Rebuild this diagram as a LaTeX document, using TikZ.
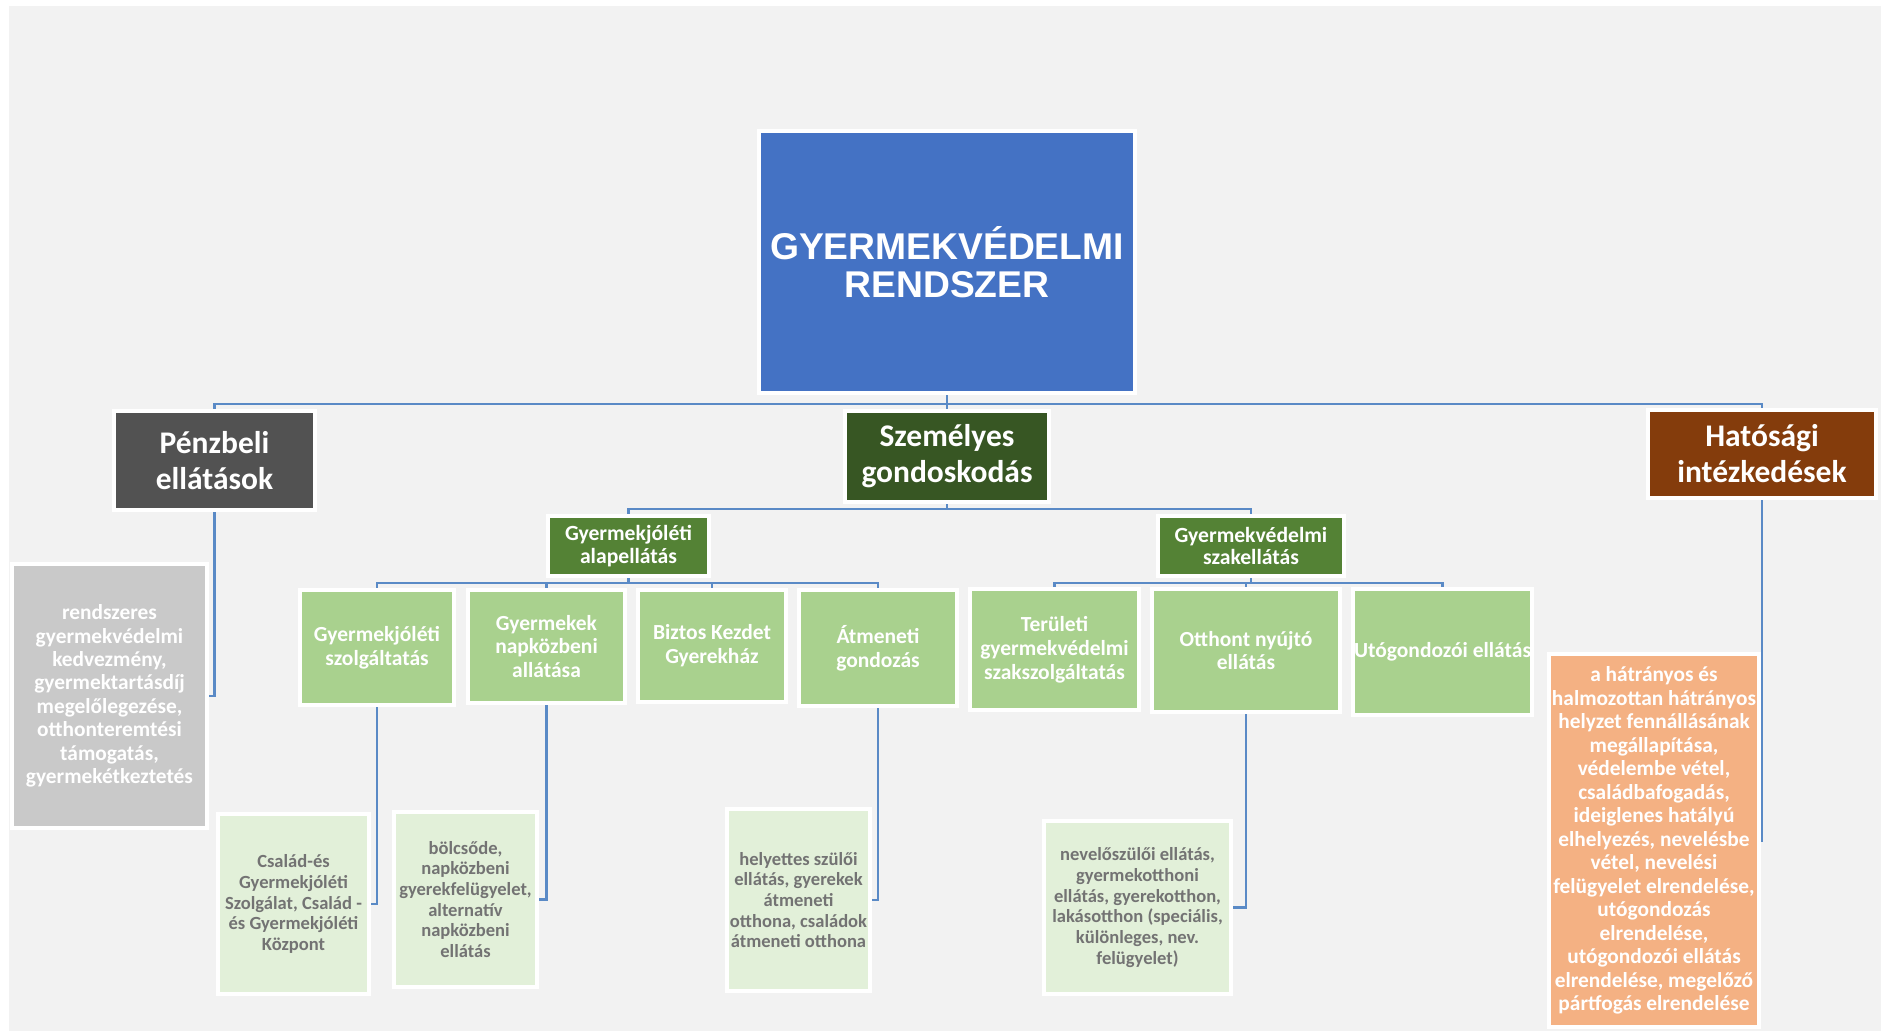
\documentclass[tikz,border=0pt]{standalone}
\usepackage{fontspec}
\setmainfont{Carlito}
\newfontfamily\headfont{Liberation Sans}
\usepackage{xcolor}
\usepackage{tikz}
\definecolor{canvas}{HTML}{F2F2F2}
\definecolor{rootblue}{HTML}{4472C4}
\definecolor{moneygrey}{HTML}{525252}
\definecolor{caregreen}{HTML}{375623}
\definecolor{authbrown}{HTML}{843C0C}
\definecolor{groupgreen}{HTML}{548235}
\definecolor{servicegreen}{HTML}{A9D18E}
\definecolor{detailgreen}{HTML}{E2F0D9}
\definecolor{detailtext}{HTML}{737373}
\definecolor{listgrey}{HTML}{C9C9C9}
\definecolor{listorange}{HTML}{F4B183}
\definecolor{busblue}{HTML}{5A8AC6}
\tikzstyle{box}=[shape=rectangle, draw=white, line width=2.2pt, inner sep=0pt, align=center, text=white]
\tikzstyle{root box}=[box, fill=rootblue, font=\headfont\bfseries\fontsize{26.5}{27}\selectfont]
\tikzstyle{branch box}=[box, font=\bfseries\fontsize{22.4}{25.6}\selectfont]
\tikzstyle{group box}=[box, fill=groupgreen, font=\bfseries\fontsize{15.4}{15.8}\selectfont]
\tikzstyle{service box}=[box, fill=servicegreen, font=\bfseries\fontsize{15.3}{17}\selectfont]
\tikzstyle{detail box}=[box, fill=detailgreen, text=detailtext, font=\bfseries\fontsize{13.2}{14.7}\selectfont]
\tikzstyle{list box}=[box, font=\bfseries\fontsize{15.2}{16.7}\selectfont]
\tikzstyle{bus}=[-, draw=busblue, line width=1.9pt]
\pgfdeclarelayer{nodelayer}
\pgfdeclarelayer{edgelayer}
\pgfsetlayers{main,edgelayer,nodelayer}

\begin{document}
\begin{tikzpicture}
	\fill [white] (0, 0) rectangle (47.025, -25.775);
	\fill [canvas] (0.225, -0.15) rectangle (47.025, -25.775);
	\useasboundingbox (0, 0) rectangle (47.025, -25.775);
	\begin{pgfonlayer}{nodelayer}
		\node [style=root box, minimum width=9.4cm, minimum height=6.55cm] (0) at (23.675, -6.55) {GYERMEKVÉDELMI\\RENDSZER};
		\node [style=branch box, fill=moneygrey, minimum width=5.025cm, minimum height=2.475cm] (1) at (5.3625, -11.5125) {Pénzbeli\\ellátások};
		\node [style=branch box, fill=caregreen, minimum width=5.1cm, minimum height=2.275cm] (2) at (23.675, -11.4125) {Személyes\\gondoskodás};
		\node [style=branch box, fill=authbrown, minimum width=5.7cm, minimum height=2.2cm] (3) at (44.05, -11.35) {Hatósági\\intézkedések};
		\node [style=group box, minimum width=4.025cm, minimum height=1.5cm] (4) at (15.7125, -13.65) {Gyermekjóléti\\alapellátás};
		\node [style=group box, minimum width=4.65cm, minimum height=1.5cm] (5) at (31.275, -13.65) {Gyermekvédelmi\\szakellátás};
		\node [style=service box, minimum width=3.85cm, minimum height=2.875cm] (6) at (9.425, -16.1875) {Gyermekjóléti\\szolgáltatás};
		\node [style=service box, minimum width=3.925cm, minimum height=2.825cm] (7) at (13.6625, -16.1625) {Gyermekek\\napközbeni\\allátása};
		\node [style=service box, minimum width=3.7cm, minimum height=2.8cm] (8) at (17.8, -16.15) {Biztos Kezdet\\Gyerekház};
		\node [style=service box, minimum width=3.95cm, minimum height=2.9cm] (9) at (21.95, -16.2) {Átmeneti\\gondozás};
		\node [style=service box, minimum width=4.225cm, minimum height=3.025cm] (10) at (26.3625, -16.2375) {Területi\\gyermekvédelmi\\szakszolgáltatás};
		\node [style=service box, minimum width=4.7cm, minimum height=3.075cm] (11) at (31.15, -16.2625) {Otthont nyújtó\\ellátás};
		\node [style=service box, minimum width=4.475cm, minimum height=3.15cm] (12) at (36.0625, -16.3) {Utógondozói ellátás};
		\node [style=detail box, minimum width=3.775cm, minimum height=4.5cm] (13) at (7.3375, -22.6) {Család-és\\Gyermekjóléti\\Szolgálat, Család -\\és Gyermekjóléti\\Központ};
		\node [style=detail box, minimum width=3.575cm, minimum height=4.375cm] (14) at (11.6375, -22.4875) {bölcsőde,\\napközbeni\\gyerekfelügyelet,\\alternatív\\napközbeni\\ellátás};
		\node [style=detail box, minimum width=3.575cm, minimum height=4.55cm] (15) at (19.9625, -22.5) {helyettes szülői\\ellátás, gyerekek\\átmeneti\\otthona, családok\\átmeneti otthona};
		\node [style=detail box, minimum width=4.675cm, minimum height=4.325cm] (16) at (28.4375, -22.6875) {nevelőszülői ellátás,\\gyermekotthoni\\ellátás, gyerekotthon,\\lakásotthon (speciális,\\különleges, nev.\\felügyelet)};
		\node [style=list box, fill=listgrey, minimum width=4.875cm, minimum height=6.6cm] (17) at (2.7375, -17.4) {rendszeres\\gyermekvédelmi\\kedvezmény,\\gyermektartásdíj\\megelőlegezése,\\otthonteremtési\\támogatás,\\gyermekétkeztetés};
		\node [style=list box, fill=listorange, minimum width=5.25cm, minimum height=9.325cm] (18) at (41.35, -21.0125) {a hátrányos és\\halmozottan hátrányos\\helyzet fennállásának\\megállapítása,\\védelembe vétel,\\családbafogadás,\\ideiglenes hatályú\\elhelyezés, nevelésbe\\vétel, nevelési\\felügyelet elrendelése,\\utógondozás\\elrendelése,\\utógondozói ellátás\\elrendelése, megelőző\\pártfogás elrendelése};
	\end{pgfonlayer}
	\begin{pgfonlayer}{edgelayer}
		\coordinate (b0) at (23.675, -10.1);
		\coordinate (b1) at (23.675, -12.725);
		\coordinate (b2) at (15.7125, -14.575);
		\coordinate (b3) at (31.275, -14.575);
		\draw [style=bus] (0.south) -- (b0);
		\draw [style=bus] (b0) -| (1.north);
		\draw [style=bus] (b0) -- (2.north);
		\draw [style=bus] (b0) -| (3.north);
		\draw [style=bus] (2.south) -- (b1);
		\draw [style=bus] (b1) -| (4.north);
		\draw [style=bus] (b1) -| (5.north);
		\draw [style=bus] (4.south) -- (b2);
		\draw [style=bus] (b2) -| (6.north);
		\draw [style=bus] (b2) -| (7.north);
		\draw [style=bus] (b2) -| (8.north);
		\draw [style=bus] (b2) -| (9.north);
		\draw [style=bus] (5.south) -- (b3);
		\draw [style=bus] (b3) -| (10.north);
		\draw [style=bus] (b3) -| (11.north);
		\draw [style=bus] (b3) -| (12.north);
		\draw [style=bus] (1.south) |- (17.east);
		\draw [style=bus] (3.south) |- (18.east);
		\draw [style=bus] (6.south) |- (13.east);
		\draw [style=bus] (7.south) |- (14.east);
		\draw [style=bus] (9.south) |- (15.east);
		\draw [style=bus] (11.south) |- (16.east);
	\end{pgfonlayer}
\end{tikzpicture}
\end{document}
